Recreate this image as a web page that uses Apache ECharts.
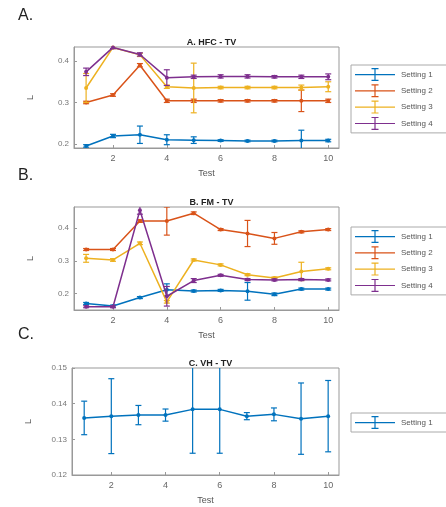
<!DOCTYPE html>
<html>
<head>
<meta charset="utf-8">
<script src="https://cdn.jsdelivr.net/npm/echarts@6/dist/echarts.min.js"></script>
<style>
  html, body { margin: 0; padding: 0; background: #fff; }
  #main { width: 446px; height: 507px; }
</style>
</head>
<body>
<div id="main"></div>
<script>
// test index
var tests = [1, 2, 3, 4, 5, 6, 7, 8, 9, 10];
var settingNames = ['Setting 1', 'Setting 2', 'Setting 3', 'Setting 4'];
var colors = ['#0072BD', '#D95319', '#EDB120', '#7E2F8E'];

// A. HFC - TV
var hfc1 = [0.195, 0.219, 0.222, 0.210, 0.209, 0.208, 0.207, 0.207, 0.208, 0.208];
var hfc1Err = [0.003, 0.004, 0.021, 0.012, 0.008, 0.002, 0.002, 0.002, 0.025, 0.003];
var hfc2 = [0.300, 0.318, 0.390, 0.304, 0.304, 0.304, 0.304, 0.304, 0.304, 0.304];
var hfc2Err = [0.003, 0.003, 0.004, 0.004, 0.004, 0.003, 0.003, 0.003, 0.026, 0.004];
var hfc3 = [0.335, 0.433, 0.415, 0.338, 0.335, 0.336, 0.336, 0.336, 0.336, 0.338];
var hfc3Err = [0.035, 0.003, 0.004, 0.004, 0.060, 0.003, 0.003, 0.003, 0.006, 0.012];
var hfc4 = [0.374, 0.433, 0.416, 0.360, 0.362, 0.363, 0.363, 0.362, 0.362, 0.362];
var hfc4Err = [0.009, 0.003, 0.004, 0.019, 0.004, 0.004, 0.004, 0.003, 0.004, 0.007];

// B. FM - TV
var fm1 = [0.170, 0.162, 0.188, 0.212, 0.208, 0.210, 0.207, 0.198, 0.214, 0.214];
var fm1Err = [0.003, 0.003, 0.003, 0.018, 0.003, 0.003, 0.027, 0.004, 0.003, 0.003];
var fm2 = [0.335, 0.335, 0.422, 0.422, 0.446, 0.396, 0.384, 0.369, 0.389, 0.396];
var fm2Err = [0.003, 0.003, 0.004, 0.043, 0.004, 0.003, 0.040, 0.018, 0.003, 0.003];
var fm3 = [0.308, 0.303, 0.354, 0.175, 0.303, 0.288, 0.258, 0.248, 0.268, 0.276];
var fm3Err = [0.012, 0.004, 0.004, 0.004, 0.003, 0.003, 0.003, 0.003, 0.028, 0.003];
var fm4 = [0.160, 0.160, 0.455, 0.192, 0.240, 0.256, 0.243, 0.242, 0.243, 0.242];
var fm4Err = [0.003, 0.003, 0.012, 0.030, 0.006, 0.003, 0.003, 0.003, 0.003, 0.003];

// C. VH - TV
var vh1 = [0.1360, 0.1365, 0.1368, 0.1368, 0.1384, 0.1384, 0.1365, 0.1370, 0.1358, 0.1365];
var vh1Err = [0.0047, 0.0105, 0.0027, 0.0017, 0.0123, 0.0123, 0.0010, 0.0018, 0.0100, 0.0100];

var panels = [
  { title: 'A. HFC - TV', letter: 'A.', top: 47, height: 101, left: 74, yMin: 0.19, yMax: 0.434,
    yTicks: [0.2, 0.3, 0.4], dec: 1, series: [[hfc1, hfc1Err], [hfc2, hfc2Err], [hfc3, hfc3Err], [hfc4, hfc4Err]],
    legendTop: 65 },
  { title: 'B. FM - TV', letter: 'B.', top: 207, height: 103, left: 74, yMin: 0.15, yMax: 0.465,
    yTicks: [0.2, 0.3, 0.4], dec: 1, series: [[fm1, fm1Err], [fm2, fm2Err], [fm3, fm3Err], [fm4, fm4Err]],
    legendTop: 227 },
  { title: 'C. VH - TV', letter: 'C.', top: 368, height: 107, left: 72, yMin: 0.12, yMax: 0.15,
    yTicks: [0.12, 0.13, 0.14, 0.15], dec: 2, series: [[vh1, vh1Err]],
    legendTop: 413 }
];

var font = 'Liberation Sans, Arial, sans-serif';
var legendIcon = 'path://M0,9H40V10.2H0Z M19.4,3H20.6V16H19.4Z M16.5,3H23.5V4.2H16.5Z M16.5,14.8H23.5V16H16.5Z';

function renderErr(params, api) {
  var x = api.value(0), lo = api.value(1), hi = api.value(2);
  var p1 = api.coord([x, lo]);
  var p2 = api.coord([x, hi]);
  var w = 3;
  var style = { stroke: api.visual('color'), lineWidth: 1.2 };
  return {
    type: 'group',
    children: [
      { type: 'line', shape: { x1: p1[0], y1: p1[1], x2: p2[0], y2: p2[1] }, style: style },
      { type: 'line', shape: { x1: p1[0] - w, y1: p1[1], x2: p1[0] + w, y2: p1[1] }, style: style },
      { type: 'line', shape: { x1: p2[0] - w, y1: p2[1], x2: p2[0] + w, y2: p2[1] }, style: style }
    ]
  };
}

var grids = [], xAxes = [], yAxes = [], series = [], titles = [], legends = [];

panels.forEach(function (p, gi) {
  grids.push({ left: p.left, right: 107, top: p.top, height: p.height, show: true,
    borderColor: '#999', borderWidth: 1, backgroundColor: 'transparent' });
  xAxes.push({
    type: 'value', gridIndex: gi, min: 0.55, max: 10.4,
    name: 'Test', nameLocation: 'middle', nameGap: 21,
    nameTextStyle: { fontSize: 9, color: '#555', fontFamily: font },
    axisLine: { lineStyle: { color: '#999' } },
    axisTick: { inside: true, length: 3, customValues: [2, 4, 6, 8, 10], lineStyle: { color: '#999' } },
    axisLabel: { fontSize: 9, color: '#666', fontFamily: font, customValues: [2, 4, 6, 8, 10], margin: 6 },
    splitLine: { show: false }
  });
  yAxes.push({
    type: 'value', gridIndex: gi, min: p.yMin, max: p.yMax,
    name: 'L', nameLocation: 'middle', nameGap: 39,
    nameTextStyle: { fontSize: 9, color: '#555', fontFamily: font },
    axisLine: { lineStyle: { color: '#999' } },
    axisTick: { inside: true, length: 3, customValues: p.yTicks, lineStyle: { color: '#999' } },
    axisLabel: { fontSize: 8, color: '#777', fontFamily: font, customValues: p.yTicks, margin: 5,
      formatter: function (v) { return v.toFixed(p.dec); } },
    splitLine: { show: false }
  });
  titles.push({ text: p.title, left: p.left + (339 - p.left) / 2, textAlign: 'center', top: p.top - 14,
    textStyle: { fontSize: 9, fontWeight: 'bold', color: '#222', fontFamily: font } });
  titles.push({ text: p.letter, left: 13, top: p.top - (gi === 2 ? 46 : 44),
    textStyle: { fontSize: 16, fontWeight: 'normal', color: '#222', fontFamily: font } });

  var names = [];
  p.series.forEach(function (s, si) {
    var vals = s[0], errs = s[1];
    var name = settingNames[si];
    names.push(name);
    series.push({
      name: name, type: 'line', xAxisIndex: gi, yAxisIndex: gi,
      data: tests.map(function (t, i) { return [t, vals[i]]; }),
      symbol: 'circle', symbolSize: 4, showSymbol: true, clip: true,
      lineStyle: { width: 1.5, color: colors[si] },
      itemStyle: { color: colors[si] },
      emphasis: { disabled: true }, z: 2 + si
    });
    series.push({
      name: name + ' err', type: 'custom', xAxisIndex: gi, yAxisIndex: gi,
      renderItem: renderErr, clip: true,
      itemStyle: { color: colors[si] },
      data: tests.map(function (t, i) { return [t, vals[i] - errs[i], vals[i] + errs[i]]; }),
      z: 2 + si
    });
  });
  legends.push({
    data: names.map(function (n) { return { name: n, icon: legendIcon }; }),
    orient: 'vertical', left: 351, top: p.legendTop,
    itemWidth: 42, itemHeight: 13, itemGap: 3.3,
    borderColor: '#aaa', borderWidth: 1, padding: [3, 14, 3, 4],
    textStyle: { fontSize: 8, color: '#555', fontFamily: font },
    selectedMode: false
  });
});

var myChart = echarts.init(document.getElementById('main'));
myChart.setOption({
  animation: false,
  backgroundColor: '#fff',
  title: titles,
  grid: grids,
  xAxis: xAxes,
  yAxis: yAxes,
  legend: legends,
  series: series
});
</script>
</body>
</html>
